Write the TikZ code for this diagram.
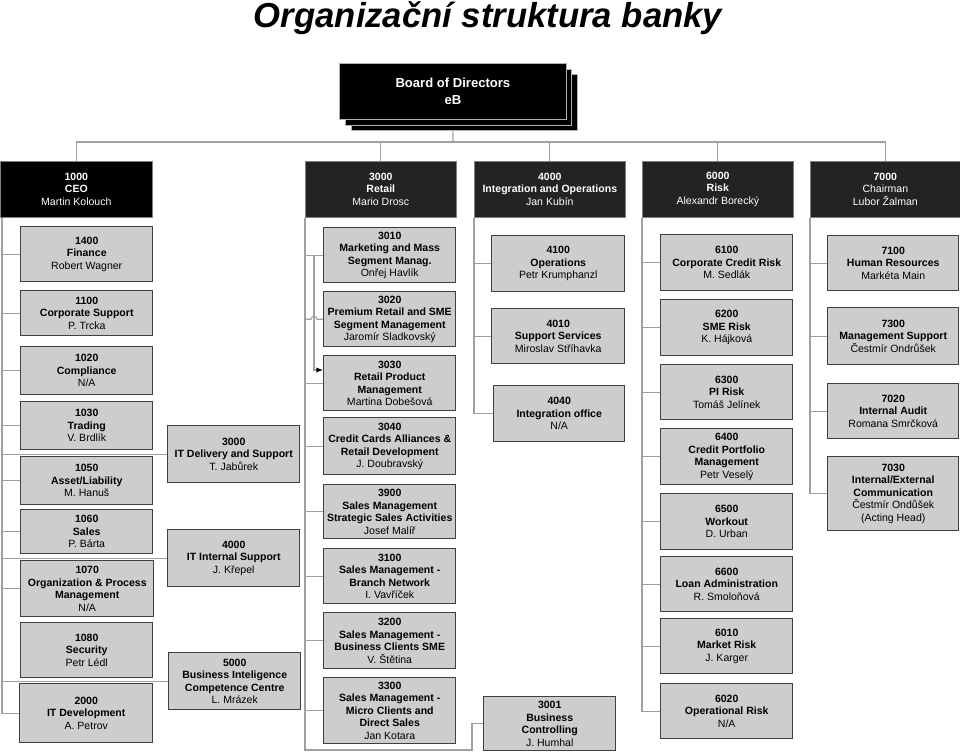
\documentclass[tikz,border=0pt]{standalone}
\usepackage{fontspec}
\setmainfont{Liberation Sans}
\usetikzlibrary{arrows.meta,calc,backgrounds}
\definecolor{boxfill}{HTML}{CDCDCD}
\definecolor{boxline}{HTML}{404040}
\definecolor{conncol}{HTML}{A0A0A0}
\definecolor{hdrfill}{HTML}{232323}
\tikzset{
  gbox/.style={draw=boxline, fill=boxfill, line width=1.1pt, inner sep=0pt, align=center,
    font=\fontsize{7.9}{9.4}\selectfont, text=black},
  hbox/.style={draw=gray, fill=hdrfill, line width=0.5pt, inner sep=0pt, align=center,
    font=\fontsize{7.9}{9.6}\selectfont, text=white},
  bdbox/.style={draw=gray!60, fill=black, line width=0.6pt, inner sep=0pt, align=center,
    font=\fontsize{9.8}{12.8}\selectfont\bfseries, text=white},
  conn/.style={draw=conncol, line width=0.8pt},
}
\newcommand{\mybox}[7]{\node[#1, anchor=north west, minimum width={(#5-#3)*0.75pt}, minimum height={(#6-#4)*0.75pt}] (#2) at (#3,#4) {#7};}
\newcommand{\B}[1]{\textbf{#1}}
\begin{document}
\begin{tikzpicture}[x=0.75pt,y=-0.75pt]
\useasboundingbox (0,0) rectangle (960,753);
% title
\node[font=\fontsize{26}{30}\selectfont\bfseries\itshape, inner sep=0pt] (title) at (488,18) {Organizační struktura banky};
% board
\mybox{bdbox}{bd3}{351}{74}{577}{130}{}
\mybox{bdbox}{bd2}{345}{69}{571}{125}{}
\mybox{bdbox}{board}{339}{63}{566}{119}{Board of Directors\\eB}
% headers
\mybox{hbox,fill=black}{hCEO}{0}{161}{152}{217}{\B{1000}\\\B{CEO}\\Martin Kolouch}
\mybox{hbox}{hRet}{305}{161}{456}{217}{\B{3000}\\\B{Retail}\\Mario Drosc}
\mybox{hbox}{hInt}{474}{161}{625}{217}{\B{4000}\\\B{Integration and Operations}\\Jan Kubín}
\mybox{hbox}{hRisk}{642}{161}{793}{217}{\B{6000}\\\B{Risk}\\Alexandr Borecký}
\mybox{hbox}{hChair}{810}{161}{960}{217}{\B{7000}\\Chairman\\Lubor Žalman}
% CEO column
\mybox{gbox}{b1400}{20}{226}{152}{281}{\B{1400}\\\B{Finance}\\Robert Wagner}
\mybox{gbox}{b1100}{20}{290}{152}{335}{\B{1100}\\\B{Corporate Support}\\P. Trcka}
\mybox{gbox}{b1020}{20}{346}{152}{394}{\B{1020}\\\B{Compliance}\\N/A}
\mybox{gbox}{b1030}{20}{401}{152}{449}{\B{1030}\\\B{Trading}\\V. Brdlík}
\mybox{gbox}{b1050}{20}{456}{152}{504}{\B{1050}\\\B{Asset/Liability}\\M. Hanuš}
\mybox{gbox}{b1060}{20}{509}{152}{553}{\B{1060}\\\B{Sales}\\P. Bárta}
\mybox{gbox}{b1070}{20}{560}{153}{616}{\B{1070}\\\B{Organization \& Process}\\\B{Management}\\N/A}
\mybox{gbox}{b1080}{20}{622}{152}{677}{\B{1080}\\\B{Security}\\Petr Lédl}
\mybox{gbox}{b2000}{19}{683}{152}{742}{\B{2000}\\\B{IT Development}\\A. Petrov}
% IT
\mybox{gbox}{bITD}{167}{425}{299}{482}{\B{3000}\\\B{IT Delivery and Support}\\T. Jabůrek}
\mybox{gbox}{bITI}{167}{529}{299}{586}{\B{4000}\\\B{IT Internal Support}\\J. Křepel}
\mybox{gbox}{bBI}{168}{652}{300}{709}{\B{5000}\\\B{Business Inteligence}\\\B{Competence Centre}\\L. Mrázek}
% Retail column
\mybox{gbox}{b3010}{323}{227}{455}{282}{\B{3010}\\\B{Marketing and Mass}\\\B{Segment Manag.}\\Onřej Havlík}
\mybox{gbox}{b3020}{323}{291}{455}{346}{\B{3020}\\\B{Premium Retail and SME}\\\B{Segment Management}\\Jaromír Sladkovský}
\mybox{gbox}{b3030}{323}{355}{455}{410}{\B{3030}\\\B{Retail Product}\\\B{Management}\\Martina Dobešová}
\mybox{gbox}{b3040}{323}{417}{455}{474}{\B{3040}\\\B{Credit Cards Alliances \&}\\\B{Retail Development}\\J. Doubravský}
\mybox{gbox}{b3900}{323}{484}{455}{538}{\B{3900}\\\B{Sales Management}\\\B{Strategic Sales Activities}\\Josef Malíř}
\mybox{gbox}{b3100}{323}{548}{455}{603}{\B{3100}\\\B{Sales Management -}\\\B{Branch Network}\\I. Vavříček}
\mybox{gbox}{b3200}{323}{612}{455}{668}{\B{3200}\\\B{Sales Management -}\\\B{Business Clients SME}\\V. Štětina}
\mybox{gbox}{b3300}{323}{677}{455}{743}{\B{3300}\\\B{Sales Management -}\\\B{Micro Clients and}\\\B{Direct Sales}\\Jan Kotara}
% Integration column
\mybox{gbox}{b4100}{491}{235}{624}{291}{\B{4100}\\\B{Operations}\\Petr Krumphanzl}
\mybox{gbox}{b4010}{491}{308}{624}{363}{\B{4010}\\\B{Support Services}\\Miroslav Stříhavka}
\mybox{gbox}{b4040}{493}{385}{624}{441}{\B{4040}\\\B{Integration office}\\N/A}
\mybox{gbox}{b3001}{483}{696}{615}{750}{\B{3001}\\\B{Business}\\\B{Controlling}\\J. Humhal}
% Risk column
\mybox{gbox}{b6100}{660}{234}{792}{290}{\B{6100}\\\B{Corporate Credit Risk}\\M. Sedlák}
\mybox{gbox}{b6200}{660}{299}{792}{355}{\B{6200}\\\B{SME Risk}\\K. Hájková}
\mybox{gbox}{b6300}{660}{364}{792}{419}{\B{6300}\\\B{PI Risk}\\Tomáš Jelínek}
\mybox{gbox}{b6400}{660}{428}{792}{484}{\B{6400}\\\B{Credit Portfolio}\\\B{Management}\\Petr Veselý}
\mybox{gbox}{b6500}{660}{493}{792}{549}{\B{6500}\\\B{Workout}\\D. Urban}
\mybox{gbox}{b6600}{660}{556}{792}{611}{\B{6600}\\\B{Loan Administration}\\R. Smoloňová}
\mybox{gbox}{b6010}{660}{618}{792}{673}{\B{6010}\\\B{Market Risk}\\J. Karger}
\mybox{gbox}{b6020}{660}{683}{792}{738}{\B{6020}\\\B{Operational Risk}\\N/A}
% Chairman column
\mybox{gbox}{b7100}{827}{235}{958}{290}{\B{7100}\\\B{Human Resources}\\Markéta Main}
\mybox{gbox}{b7300}{827}{307}{958}{364}{\B{7300}\\\B{Management Support}\\Čestmír Ondrůšek}
\mybox{gbox}{b7020}{827}{383}{958}{438}{\B{7020}\\\B{Internal Audit}\\Romana Smrčková}
\mybox{gbox}{b7030}{827}{456}{958}{530}{\B{7030}\\\B{Internal/External}\\\B{Communication}\\Čestmír Ondůšek\\(Acting Head)}
% connectors
\begin{pgfonlayer}{background}
\coordinate (bus) at (453,142);
\draw[conn] (board.south) -- (bus);
\draw[conn] (hCEO.north) -- (hCEO.north |- bus) -- (hChair.north |- bus) -- (hChair.north);
\foreach \h in {hRet,hInt,hRisk} \draw[conn] (\h.north) -- (\h.north |- bus);
% CEO trunk
\coordinate (tCEO) at ($(hCEO.south west)+(2,0)$);
\foreach \b in {b1400,b1100,b1020,b1030,b1050,b1060,b1070,b2000,bITD,bITI,bBI}
  \draw[conn] (tCEO) |- (\b.west);
% Retail trunk
\coordinate (tRet) at (hRet.south west);
\foreach \b in {b3010,b3030,b3040,b3900,b3100,b3200,b3300}
  \draw[conn] (tRet) |- (\b.west);
\coordinate (jx) at ($(b3010.west)+(-9,0)$);
\coordinate (ja) at (jx |- 0,370);
\draw[conn] (tRet |- b3020.west) -- ($(jx |- b3020.west)+(-3,0)$) arc[start angle=180,end angle=360,radius=3] -- (b3020.west);
\draw[conn,-{Latex[length=5pt,width=4pt,color=black]}] (jx) -- (ja) -- (ja -| b3030.west);
\coordinate (c3001) at (472,750);
\draw[conn] (tRet) |- (c3001) |- (b3001.west);
% Integration trunk
\coordinate (tInt) at (hInt.south west);
\foreach \b in {b4100,b4010,b4040}
  \draw[conn] (tInt) |- (\b.west);
% Risk trunk
\coordinate (tRisk) at (hRisk.south west);
\foreach \b in {b6100,b6200,b6300,b6400,b6500,b6600,b6010,b6020}
  \draw[conn] (tRisk) |- (\b.west);
% Chairman trunk
\coordinate (tCh) at (hChair.south west);
\foreach \b in {b7100,b7300,b7020,b7030}
  \draw[conn] (tCh) |- (\b.west);
\end{pgfonlayer}
\end{tikzpicture}
\end{document}
